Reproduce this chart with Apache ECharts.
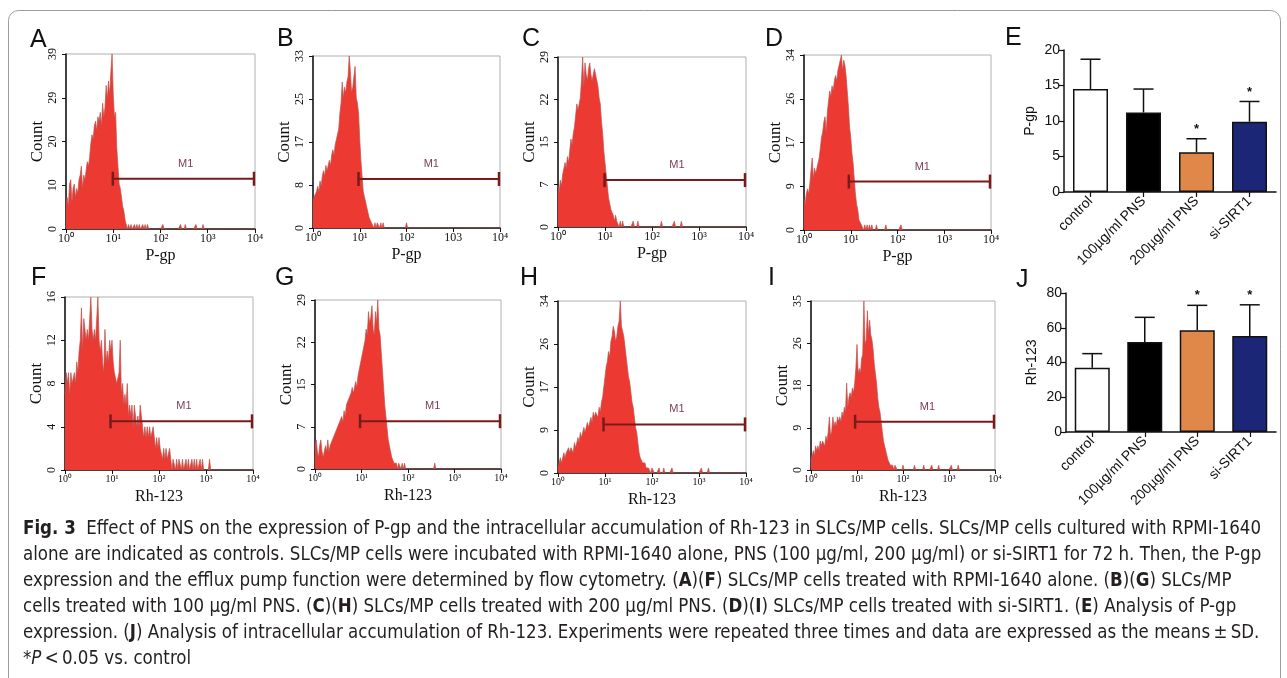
<!DOCTYPE html>
<html><head><meta charset="utf-8">
<script src="https://cdn.jsdelivr.net/npm/echarts@6/dist/echarts.min.js"></script>
<style>html,body{margin:0;padding:0;background:#fff}#c{width:1287px;height:678px}</style>
</head><body><div id="c"></div><script>
// ---------------- DATA ----------------
// flow-cytometry histograms: counts per channel (40 channels per decade, starting at 10^0)
const histA = [6,7,5,10,11,6,9,10,7,9,8,11,12,14,9,12,11,13,15,14,16,19,21,20,23,24,22,25,24,26,23,28,25,27,32,29,33,30,35,39,30,25,26,18,14,10,9,7,5,4,2,1];
const tailA = [53,55,58,60,62,65,67,69,82,97,101,110,116];
const histB = [5,6,6,7,8,7,9,8,10,11,10,12,11,12,13,12,14,15,14,16,17,18,19,22,24,28,25,27,26,28,29,33,30,26,27,29,31,25,24,22,17,13,10,7,6,5,4,3,2,2,1,1];
const tailB = [53,55,56,58,60,80];
const histC = [7,6,8,7,9,10,11,10,12,11,13,15,14,16,17,19,21,20,21,22,25,29,24,28,26,25,27,28,26,25,26,27,26,25,24,22,21,18,16,13,11,9,7,5,4,3,3,2,1,2,1,1];
const tailC = [53,55,64,68,88,99,105];
const histD = [6,5,7,8,7,9,9,14,10,12,11,12,13,14,16,18,19,21,22,19,23,25,27,26,28,27,29,30,29,31,32,33,34,31,33,32,30,27,24,20,18,15,13,10,7,5,4,2,2,1,1];
const tailD = [52,54,56,58,62,70,83];
const histF = [7,9,8,9,7,9,8,8,9,8,10,9,11,12,15,11,14,13,12,13,12,14,16,13,12,13,12,14,16,12,11,12,10,9,13,10,11,10,12,11,12,10,9,9,8,8,9,12,7,8,6,7,6,8,5,6,5,6,4,6,5,4,5,4,6,5,4,3,4,3,4,3,4,3,3,4,3,2,3,2,3,2,2,1,2,1,2,1,1,2,1];
const tailF = [92,93,95,97,98,100,103,105,108,110,112,115,117,123];
const histG = [4,5,3,2,4,5,3,2,3,4,3,5,3,4,4,5,5,6,6,7,7,8,8,9,8,10,9,11,11,12,12,13,14,13,14,15,14,16,17,18,19,20,21,22,24,23,27,25,26,28,24,23,27,25,29,24,23,20,17,14,11,9,7,5,4,3,2,2,1,1,1];
const tailG = [72,73,75,77,103];
const histH = [1,2,3,2,3,4,3,4,4,5,4,5,5,4,6,5,6,7,6,8,7,8,9,8,9,10,9,10,11,10,12,11,12,12,11,13,12,14,15,17,19,21,22,24,23,26,27,29,28,26,27,29,30,34,29,28,27,25,23,21,19,18,16,14,13,11,9,8,6,4,3,3,2,2,2,1,1,1,1];
const tailH = [80,81,86,90,97,122,128];
const histI = [2,3,4,3,5,4,5,4,6,5,6,6,5,7,6,8,11,7,8,11,9,10,9,11,10,11,10,12,11,13,12,18,13,15,16,15,17,16,18,21,26,20,21,20,23,24,35,26,27,33,28,31,28,27,25,22,20,18,15,13,12,10,8,6,5,4,3,2,2,1,1,1];
const tailI = [73,74,80,90,98,105,111,122,128];

const histYMax   = [39, 33, 29, 34, 16, 29, 34, 35];
const gateFrom   = [9.8, 9.4, 9.8, 9.1, 9.3, 9.3, 9.3, 9.1];
const gateTo     = 10000;
const gateLevel  = [11.2, 9.4, 8.0, 9.4, 4.5, 8.2, 9.6, 10.0];
const gateLabelX = 340;
const xTicksStd  = ['10\u2070','10\u00B9','10\u00B2','10\u00B3','10\u2074'];
const xTicksB    = ['10\u2070','10\u00B9','10\u00B2','103','10\u2074'];
const xNames     = ['P-gp','P-gp','P-gp','P-gp','Rh-123','Rh-123','Rh-123','Rh-123'];

// bar charts
const groups  = ['control','100\u00B5g/ml PNS','200\u00B5g/ml PNS','si-SIRT1'];
const pgpMean = [14.5, 11.2, 5.6, 9.9];
const pgpSD   = [4.2, 3.3, 1.9, 2.85];
const rhMean  = [37.0, 51.8, 58.6, 55.2];
const rhSD    = [8.1, 14.2, 14.3, 18.0];
const sigFlag = [false, false, true, true];
const barColors = ['#ffffff', '#000000', '#e0874a', '#1b2677'];

// ---------------- LAYOUT ----------------
const hists = [[histA,tailA],[histB,tailB],[histC,tailC],[histD,tailD],[histF,tailF],[histG,tailG],[histH,tailH],[histI,tailI]];
const histGrids = [
  {left:66, top:54, width:189, height:175},
  {left:313, top:56, width:187, height:172},
  {left:558, top:57, width:188, height:170},
  {left:804, top:55, width:187, height:175},
  {left:65, top:297, width:188, height:173},
  {left:315, top:300, width:186, height:169},
  {left:558, top:301, width:188, height:172},
  {left:811, top:301, width:184, height:169}
];
const barGrids = [
  {left:1064, top:50, width:212, height:142},
  {left:1066, top:293, width:210, height:139}
];

function buildHist(main, tail) {
  const out = [];
  for (let k = 0; k <= 160; k++) {
    let c = k < main.length ? main[k] : 0;
    if (tail.indexOf(k) >= 0) c += 1;
    out.push([Math.pow(10, k / 40), c]);
  }
  return out;
}

const serif = '"Liberation Serif","Times New Roman",serif';
const sans = '"Liberation Sans",Arial,sans-serif';
const grids = [], xAxes = [], yAxes = [], series = [];

histGrids.forEach((g, i) => {
  grids.push(Object.assign({show:true, borderColor:'#b0b0b0', borderWidth:1, backgroundColor:'transparent'}, g));
  const ticks = i === 1 ? xTicksB : xTicksStd;
  const bottomRow = i >= 4;
  xAxes.push({
    type:'log', logBase:10, min:1, max:10000, gridIndex:i, splitNumber:4,
    axisLine:{show:true, onZero:false, lineStyle:{color:'#111', width:1.5}},
    axisTick:{show:true, length:4, lineStyle:{color:'#111'}},
    minorTick:{show:false}, splitLine:{show:false},
    axisLabel:{fontFamily:serif, fontSize: bottomRow ? 10 : 12, color:'#111', margin:4,
      formatter: v => ticks[Math.round(Math.log10(v))] || ''},
    name: xNames[i], nameLocation:'middle', nameGap:19,
    nameTextStyle:{fontFamily:serif, fontSize:16, color:'#111'}
  });
  yAxes.push({
    type:'value', min:0, max:histYMax[i], interval:histYMax[i]/4, gridIndex:i,
    axisLine:{show:true, lineStyle:{color:'#111', width:1.5}},
    axisTick:{show:true, length:4, lineStyle:{color:'#111'}},
    splitLine:{show:false},
    axisLabel:{rotate:90, fontFamily:serif, fontSize:12, color:'#111', margin:7,
      formatter: v => String(Math.round(v))},
    name:'Count', nameLocation:'middle', nameGap:20,
    nameTextStyle:{fontFamily:serif, fontSize:17, color:'#111'}
  });
  series.push({
    type:'line', xAxisIndex:i, yAxisIndex:i, data: buildHist(hists[i][0], hists[i][1]),
    symbol:'none', showSymbol:false, animation:false, clip:true,
    lineStyle:{color:'#c2504a', width:0.7},
    areaStyle:{color:'#ec3a33', opacity:1}
  });
  series.push({
    type:'custom', xAxisIndex:i, yAxisIndex:i, animation:false, z:5,
    encode:{x:[0,1], y:2},
    data:[[gateFrom[i], gateTo, gateLevel[i], gateLabelX]],
    renderItem:(params, api) => {
      const p1 = api.coord([api.value(0), api.value(2)]);
      const p2 = api.coord([api.value(1), api.value(2)]);
      const pm = api.coord([api.value(3), api.value(2)]);
      const st = {stroke:'#7a1a1a', lineWidth:2};
      return {type:'group', children:[
        {type:'line', shape:{x1:p1[0], y1:p1[1], x2:p2[0], y2:p2[1]}, style:st},
        {type:'line', shape:{x1:p1[0], y1:p1[1]-7, x2:p1[0], y2:p1[1]+7}, style:{stroke:'#7a1a1a', lineWidth:2.5}},
        {type:'line', shape:{x1:p2[0]-1, y1:p2[1]-7, x2:p2[0]-1, y2:p2[1]+7}, style:{stroke:'#7a1a1a', lineWidth:2.5}},
        {type:'text', x:pm[0], y:p1[1]-15, style:{text:'M1', fill:'#7d3d55', font:'11px ' + sans, align:'center', verticalAlign:'middle'}}
      ]};
    }
  });
});

const barSets = [[pgpMean, pgpSD, 'P-gp', 20, 5], [rhMean, rhSD, 'Rh-123', 80, 20]];
barSets.forEach((b, j) => {
  const gi = 8 + j;
  grids.push(Object.assign({show:false}, barGrids[j]));
  xAxes.push({
    type:'category', data:groups, gridIndex:gi,
    axisLine:{show:true, lineStyle:{color:'#111', width:1.5}},
    axisTick:{show:true, alignWithLabel:true, length:5, lineStyle:{color:'#111', width:1.2}},
    axisLabel:{rotate:45, interval:0, fontFamily:sans, fontSize:14, color:'#111', margin:7}
  });
  yAxes.push({
    type:'value', min:0, max:b[3], interval:b[4], gridIndex:gi,
    axisLine:{show:true, lineStyle:{color:'#111', width:1.5}},
    axisTick:{show:true, length:5, lineStyle:{color:'#111', width:1.2}},
    splitLine:{show:false},
    axisLabel:{fontFamily:sans, fontSize:14, color:'#111', margin:4},
    name:b[2], nameLocation:'middle', nameGap:27,
    nameTextStyle:{fontFamily:sans, fontSize:14, color:'#111'}
  });
  series.push({
    type:'bar', xAxisIndex:gi, yAxisIndex:gi, barWidth:35, animation:false,
    data: b[0].map((v, k) => ({value:v, itemStyle:{color:barColors[k], borderColor:'#111', borderWidth:1.5}}))
  });
  series.push({
    type:'custom', xAxisIndex:gi, yAxisIndex:gi, animation:false, z:5,
    encode:{x:0, y:1},
    data: b[0].map((v, k) => [k, v, b[1][k]]),
    renderItem:(params, api) => {
      const base = api.coord([api.value(0), api.value(1)]);
      const top = api.coord([api.value(0), api.value(1) + api.value(2)]);
      const st = {stroke:'#111', lineWidth:1.5};
      const ch = [
        {type:'line', shape:{x1:base[0], y1:base[1], x2:top[0], y2:top[1]}, style:st},
        {type:'line', shape:{x1:top[0]-10, y1:top[1], x2:top[0]+10, y2:top[1]}, style:st}
      ];
      if (sigFlag[params.dataIndex]) ch.push({type:'text', x:top[0], y:top[1]-3,
        style:{text:'*', fill:'#111', font:'bold 13px ' + sans, align:'center', verticalAlign:'bottom'}});
      return {type:'group', children:ch};
    }
  });
});

// ---------------- TEXT ----------------
const letterPos = [['A',30,28],['B',277,27],['C',522,27],['D',765,27],['E',1005,26],
                   ['F',31,266],['G',275,266],['H',520,266],['I',768,266],['J',1016,268]];
const capLines = [
  [['b','Fig. 3'],['n','  Effect of PNS on the expression of P-gp and the intracellular accumulation of Rh-123 in SLCs/MP cells. SLCs/MP cells cultured with RPMI-1640']],
  [['n','alone are indicated as controls. SLCs/MP cells were incubated with RPMI-1640 alone, PNS (100 \u00B5g/ml, 200 \u00B5g/ml) or si-SIRT1 for 72 h. Then, the P-gp']],
  [['n','expression and the efflux pump function were determined by flow cytometry. ('],['b','A'],['n',')('],['b','F'],['n',') SLCs/MP cells treated with RPMI-1640 alone. ('],['b','B'],['n',')('],['b','G'],['n',') SLCs/MP']],
  [['n','cells treated with 100 \u00B5g/ml PNS. ('],['b','C'],['n',')('],['b','H'],['n',') SLCs/MP cells treated with 200 \u00B5g/ml PNS. ('],['b','D'],['n',')('],['b','I'],['n',') SLCs/MP cells treated with si-SIRT1. ('],['b','E'],['n',') Analysis of P-gp']],
  [['n','expression. ('],['b','J'],['n',') Analysis of intracellular accumulation of Rh-123. Experiments were repeated three times and data are expressed as the means\u2009\u00B1\u2009SD.']],
  [['n','*'],['i','P'],['n','\u2009<\u20090.05 vs. control']]
];
const capFamily = '"Liberation Sans Narrow","DejaVu Sans Condensed","Roboto Condensed",sans-serif';
const mctx = document.createElement('canvas').getContext('2d');
let w1 = 0;
capLines[0].forEach(s => { mctx.font = (s[0]==='b'?'bold ':'') + '100px ' + capFamily; w1 += mctx.measureText(s[1]).width; });
const capSize = Math.min(21, 100 * 1239 / w1);
const capY = [529, 555, 581, 607, 633, 659];
const capRich = {
  n:{fontFamily:capFamily, fontSize:capSize, fill:'#231f20'},
  b:{fontFamily:capFamily, fontSize:capSize, fontWeight:'bold', fill:'#231f20'},
  i:{fontFamily:capFamily, fontSize:capSize, fontStyle:'italic', fill:'#231f20'}
};
const graphics = [
  {type:'rect', shape:{x:8.5, y:10.5, width:1272, height:700, r:10}, style:{fill:'none', stroke:'#9c9c9c', lineWidth:1}, silent:true}
];
letterPos.forEach(l => graphics.push({type:'text', left:l[1], top:l[2],
  style:{text:l[0], fontFamily:sans, fontSize:25, fill:'#111'}}));
capLines.forEach((ln, k) => graphics.push({type:'text', x:23, y:capY[k],
  style:{text: ln.map(s => '{' + s[0] + '|' + s[1] + '}').join(''), rich:capRich, verticalAlign:'middle', align:'left'}}));

const chart = echarts.init(document.getElementById('c'), null, {renderer:'canvas'});
chart.setOption({
  animation:false, backgroundColor:'#fff',
  grid:grids, xAxis:xAxes, yAxis:yAxes, series:series, graphic:graphics
});
</script></body></html>
